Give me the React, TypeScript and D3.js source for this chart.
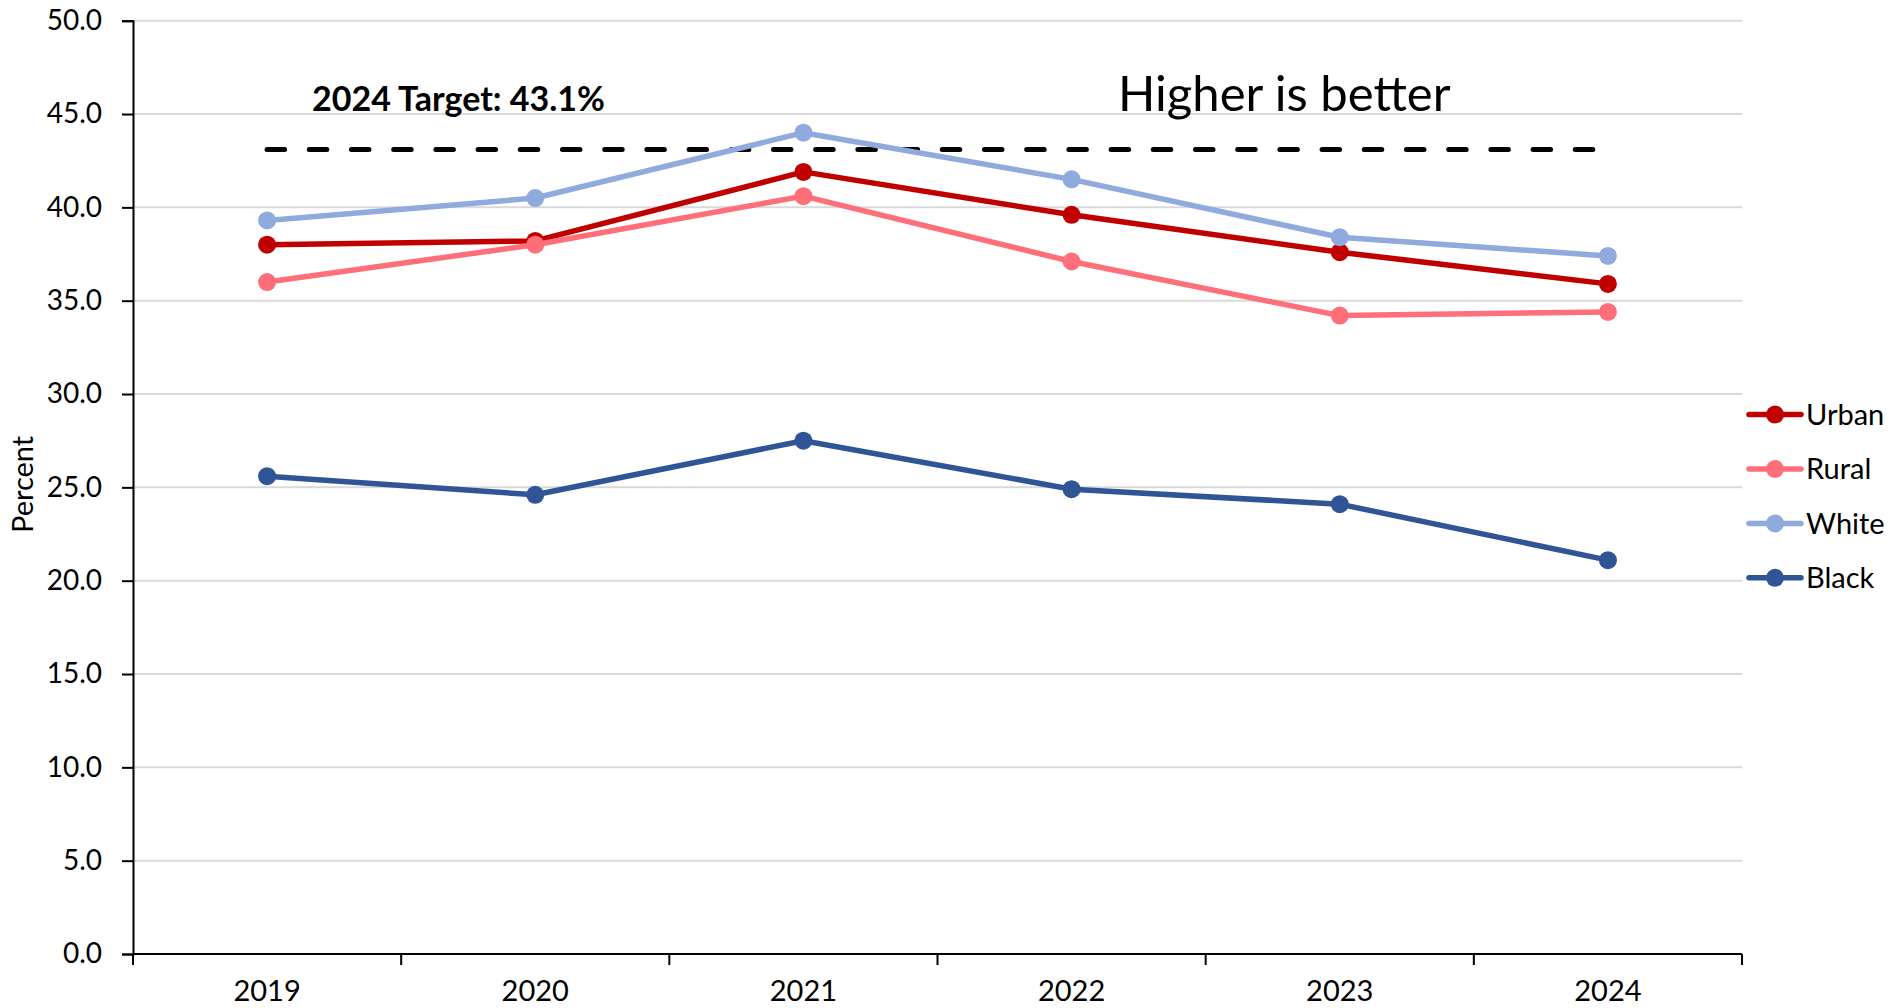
import React, { useEffect, useRef } from "react";
import * as d3 from "d3";

const years = ["2019", "2020", "2021", "2022", "2023", "2024"];
const urban = [38.0, 38.2, 41.9, 39.6, 37.6, 35.9];
const rural = [36.0, 38.0, 40.6, 37.1, 34.2, 34.4];
const white = [39.3, 40.5, 44.0, 41.5, 38.4, 37.4];
const black = [25.6, 24.6, 27.5, 24.9, 24.1, 21.1];
const target = 43.1;
const yTicks = [0, 5, 10, 15, 20, 25, 30, 35, 40, 45, 50];

const seriesNames = ["Urban", "Rural", "White", "Black"];
const seriesValues = [urban, rural, white, black];
const seriesColors = ["#C00000", "#FF6F7A", "#8FAADC", "#2F5597"];

const W = 1895;
const H = 1008;
const FONT = "Lato, 'Open Sans', sans-serif";

export default function App() {
  const ref = useRef<SVGSVGElement>(null);

  useEffect(() => {
    const svg = d3.select(ref.current);
    svg.selectAll("*").remove();

    const left = 133, right = 1742, top = 20.7, bottom = 954;
    const x = d3.scaleBand<string>().domain(years).range([left, right]);
    const y = d3.scaleLinear().domain([0, 50]).range([bottom, top]);
    const cx = (yr: string) => (x(yr) as number) + x.bandwidth() / 2;

    // gridlines
    svg.append("g")
      .selectAll("line")
      .data(yTicks.filter((t) => t > 0))
      .join("line")
      .attr("x1", left)
      .attr("x2", right)
      .attr("y1", (d) => y(d))
      .attr("y2", (d) => y(d))
      .attr("stroke", "#d9d9d9")
      .attr("stroke-width", 2);

    // y axis
    const yAxis = svg.append("g").attr("transform", `translate(${left},0)`)
      .call(d3.axisLeft(y).tickValues(yTicks).tickFormat(d3.format(".1f")).tickSize(11).tickPadding(20));
    yAxis.select(".domain").attr("stroke", "#000").attr("stroke-width", 2);
    yAxis.selectAll(".tick line").attr("stroke", "#000").attr("stroke-width", 2);
    yAxis.selectAll("text").attr("font-family", FONT).attr("font-size", 28).attr("fill", "#000");

    // x axis
    const xAxis = svg.append("g").attr("transform", `translate(0,${bottom})`)
      .call(d3.axisBottom(x).tickSize(0).tickPadding(26));
    xAxis.select(".domain").remove();
    xAxis.selectAll(".tick line").remove();
    xAxis.selectAll("text").attr("font-family", FONT).attr("font-size", 29).attr("fill", "#000");
    svg.append("line").attr("x1", left).attr("x2", right).attr("y1", bottom).attr("y2", bottom)
      .attr("stroke", "#000").attr("stroke-width", 2);
    const bounds = years.map((yr) => x(yr) as number).concat([right]);
    svg.append("g").selectAll("line").data(bounds).join("line")
      .attr("x1", (d) => d).attr("x2", (d) => d)
      .attr("y1", bottom).attr("y2", bottom + 11)
      .attr("stroke", "#000").attr("stroke-width", 2);

    // y label
    svg.append("text")
      .attr("transform", `translate(33,${(top + bottom) / 2 - 3}) rotate(-90)`)
      .attr("text-anchor", "middle")
      .attr("font-family", FONT)
      .attr("font-size", 29)
      .text("Percent");

    // target line
    svg.append("line")
      .attr("x1", cx(years[0]))
      .attr("x2", cx(years[years.length - 1]))
      .attr("y1", y(target))
      .attr("y2", y(target))
      .attr("stroke", "#000")
      .attr("stroke-width", 5)
      .attr("stroke-linecap", "round")
      .attr("stroke-dasharray", "17.5 24.7");

    svg.append("text")
      .attr("x", 312)
      .attr("y", 111)
      .attr("font-family", FONT)
      .attr("font-weight", "bold")
      .attr("font-size", 34)
      .text("2024 Target: 43.1%");

    svg.append("text")
      .attr("x", 1118)
      .attr("y", 111)
      .attr("font-family", FONT)
      .attr("font-size", 49)
      .text("Higher is better");

    // series
    const line = d3.line<number>().x((_, i) => cx(years[i])).y((d) => y(d));
    seriesValues.forEach((vals, si) => {
      const g = svg.append("g");
      g.append("path")
        .datum(vals)
        .attr("d", line)
        .attr("fill", "none")
        .attr("stroke", seriesColors[si])
        .attr("stroke-width", 5.5)
        .attr("stroke-linejoin", "round");
      g.selectAll("circle")
        .data(vals)
        .join("circle")
        .attr("cx", (_, i) => cx(years[i]))
        .attr("cy", (d) => y(d))
        .attr("r", 9)
        .attr("fill", seriesColors[si]);
    });

    // legend
    const lg = svg.append("g");
    seriesNames.forEach((name, i) => {
      const ly = 414.6 + i * 54.4;
      lg.append("line").attr("x1", 1749).attr("x2", 1801).attr("y1", ly).attr("y2", ly)
        .attr("stroke", seriesColors[i]).attr("stroke-width", 5.5).attr("stroke-linecap", "round");
      lg.append("circle").attr("cx", 1775).attr("cy", ly).attr("r", 9).attr("fill", seriesColors[i]);
      lg.append("text").attr("x", 1806).attr("y", ly).attr("dy", "0.35em")
        .attr("font-family", FONT).attr("font-size", 29).text(name);
    });
  }, []);

  return (
    <svg
      ref={ref}
      width={W}
      height={H}
      style={{ position: "absolute", left: 0, top: 0, background: "#fff" }}
    />
  );
}
